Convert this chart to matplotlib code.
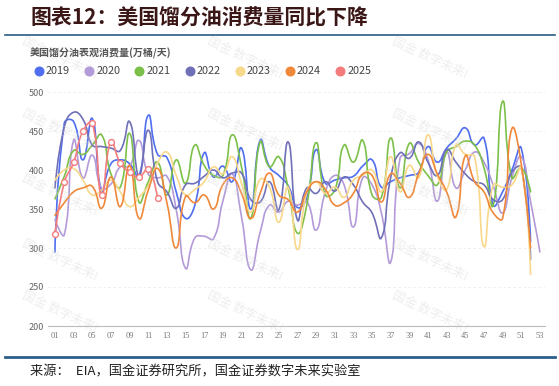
import numpy as np
import matplotlib
matplotlib.use("Agg")
import matplotlib.pyplot as plt
from matplotlib.path import Path
from matplotlib.patches import PathPatch
from matplotlib.lines import Line2D

plt.rcParams['font.family'] = ['Noto Sans CJK SC', 'DejaVu Sans']

# weekly apparent consumption of US distillate, 10k bbl/day
years  = ['2019', '2020', '2021', '2022', '2023', '2024', '2025']
colors = ['#4f6ef0', '#b39ad8', '#7cc04a', '#7070b8', '#f8d88a', '#f0883a', '#f47c7c']

v2019 = [295, 460, 462, 413, 466, 374, 408, 413, 408, 392, 470, 420, 416, 372, 338, 355, 422, 391,
         405, 385, 428, 350, 438, 404, 393, 380, 352, 364, 426, 383, 387, 390, 392, 405, 413, 378,
         385, 390, 393, 397, 430, 410, 428, 440, 454, 432, 441, 355, 372, 400, 428, 308]
v2020 = [336, 317, 438, 390, 419, 377, 382, 404, 405, 438, 395, 390, 392, 349, 274, 313, 315, 312,
         360, 395, 340, 272, 320, 355, 346, 360, 355, 360, 323, 372, 393, 381, 327, 390, 381, 345,
         282, 415, 421, 434, 413, 360, 423, 377, 400, 423, 410, 380, 345, 390, 417, 360, 295]
v2021 = [363, 392, 425, 420, 432, 445, 395, 378, 447, 359, 385, 410, 368, 413, 383, 432, 406, 393,
         393, 445, 404, 338, 436, 404, 417, 377, 319, 355, 435, 368, 374, 432, 410, 438, 368, 365,
         441, 377, 434, 410, 393, 381, 423, 430, 437, 432, 403, 355, 488, 390, 403, 372]
v2022 = [377, 455, 474, 465, 432, 430, 428, 425, 462, 393, 451, 385, 372, 351, 381, 383, 392, 400,
         390, 396, 396, 362, 359, 385, 349, 436, 336, 377, 370, 385, 373, 391, 381, 359, 345, 313,
         390, 422, 415, 436, 410, 393, 426, 410, 395, 385, 381, 362, 362, 397, 403, 285]
v2023 = [387, 400, 402, 387, 368, 374, 387, 372, 353, 365, 380, 409, 423, 393, 368, 375, 385, 404,
         395, 417, 383, 346, 388, 378, 333, 378, 298, 372, 385, 370, 378, 365, 387, 393, 400, 372,
         417, 372, 406, 390, 445, 393, 375, 432, 420, 417, 302, 381, 378, 381, 403, 266]
v2024 = [342, 358, 372, 377, 379, 351, 391, 353, 406, 338, 374, 402, 358, 300, 366, 358, 368, 350,
         381, 390, 370, 338, 370, 396, 368, 362, 346, 372, 385, 375, 355, 358, 370, 395, 393, 359,
         395, 383, 365, 395, 420, 395, 372, 340, 418, 385, 372, 345, 338, 453, 408, 300]
v2025 = [318, 384, 410, 450, 460, 368, 436, 409, 397, 391, 401, 364]
series = [v2019, v2020, v2021, v2022, v2023, v2024, v2025]

xticks = list(range(1, 54, 2))
yticks = [200, 250, 300, 350, 400, 450, 500]

W, H = 559, 386


def fx(px):
    return px / W


def fy(py):
    return 1 - py / H


def smooth_path(xs, ys, smooth=0.5, sx=9.33, sy=0.78):
    # echarts-style smooth line: bezier control points from neighbours
    p = np.column_stack([np.asarray(xs, float) * sx, np.asarray(ys, float) * sy])
    n = len(p)
    cin, cout = p.copy(), p.copy()
    for i in range(1, n - 1):
        v = p[i + 1] - p[i - 1]
        l0 = np.hypot(*(p[i] - p[i - 1]))
        l1 = np.hypot(*(p[i + 1] - p[i]))
        r = l1 / (l0 + l1) if l0 + l1 > 0 else 0.5
        cout[i] = p[i] + v * smooth * r
        cin[i] = p[i] - v * smooth * (1 - r)
    verts, codes = [p[0]], [Path.MOVETO]
    for i in range(n - 1):
        verts += [cout[i], cin[i + 1], p[i + 1]]
        codes += [Path.CURVE4] * 3
    return Path(np.array(verts) / [sx, sy], codes)


fig = plt.figure(figsize=(W / 100, H / 100), dpi=100, facecolor="white")

# title + rules
fig.text(fx(30), fy(18), "图表12：美国馏分油消费量同比下降", fontsize=15, fontweight="bold",
         color="#3a1616", va="center", ha="left")
fig.add_artist(Line2D([fx(5), fx(555)], [fy(35), fy(35)], color="#2b5b84", lw=1.2))
fig.add_artist(Line2D([fx(5), fx(555)], [fy(357), fy(357)], color="#2d5f8a", lw=2.0))
fig.text(fx(30), fy(372), "来源：  EIA，国金证券研究所，国金证券数字未来实验室", fontsize=9.5,
         color="#222", va="center", ha="left")

fig.text(fx(30), fy(53), "美国馏分油表观消费量(万桶/天)", fontsize=7.2, fontweight="bold",
         color="#555", va="center", ha="left")

# legend row
for i, (yr, c) in enumerate(zip(years, colors)):
    x0 = 39 + i * 50.2
    fig.add_artist(Line2D([fx(x0)], [fy(71)], marker="o", markersize=6.2, color=c, lw=0))
    fig.text(fx(x0 + 7), fy(71), yr, fontsize=7.8, color="#444", va="center", ha="left")

ax = fig.add_axes([fx(48), fy(326), fx(545) - fx(48), fy(92) - fy(326)])
ax.set_xlim(0.25, 53.55)
ax.set_ylim(200, 500)

for yr, vals, c in zip(years, series, colors):
    wk = np.arange(1, len(vals) + 1)
    ax.add_patch(PathPatch(smooth_path(wk, vals), facecolor="none", edgecolor=c, lw=1.2,
                           capstyle="round", joinstyle="round", zorder=3))
    if yr == '2025':
        ax.plot(wk, vals, ls="none", marker="o", markersize=4.2, markerfacecolor="white",
                markeredgecolor=c, markeredgewidth=1.0, zorder=5)

ax.set_yticks(yticks)
ax.set_yticklabels([str(v) for v in yticks], fontsize=6.5, color="#666")
ax.set_xticks(xticks)
ax.set_xticklabels(["%02d" % v for v in xticks], fontsize=6, color="#777",
                   family="Liberation Serif")
ax.tick_params(axis="y", length=0, pad=3)
ax.tick_params(axis="x", length=0, pad=4)
for s in ["top", "right", "left"]:
    ax.spines[s].set_visible(False)
ax.spines["bottom"].set_color("#bbbbbb")
ax.spines["bottom"].set_linewidth(0.8)
for v in yticks[1:]:
    ax.axhline(v, color="#ececec", lw=0.6, ls=(0, (3, 3)), zorder=1)

# faint watermarks
for wx in [60, 245, 430]:
    for wy in [58, 130, 195, 260, 312]:
        fig.text(fx(wx), fy(wy), "国金 数字未来!", fontsize=9, color="#d4d4d4", alpha=0.4,
                 rotation=-25, ha="center", va="center", zorder=0)

fig.savefig("out.png", dpi=100, facecolor="white")
